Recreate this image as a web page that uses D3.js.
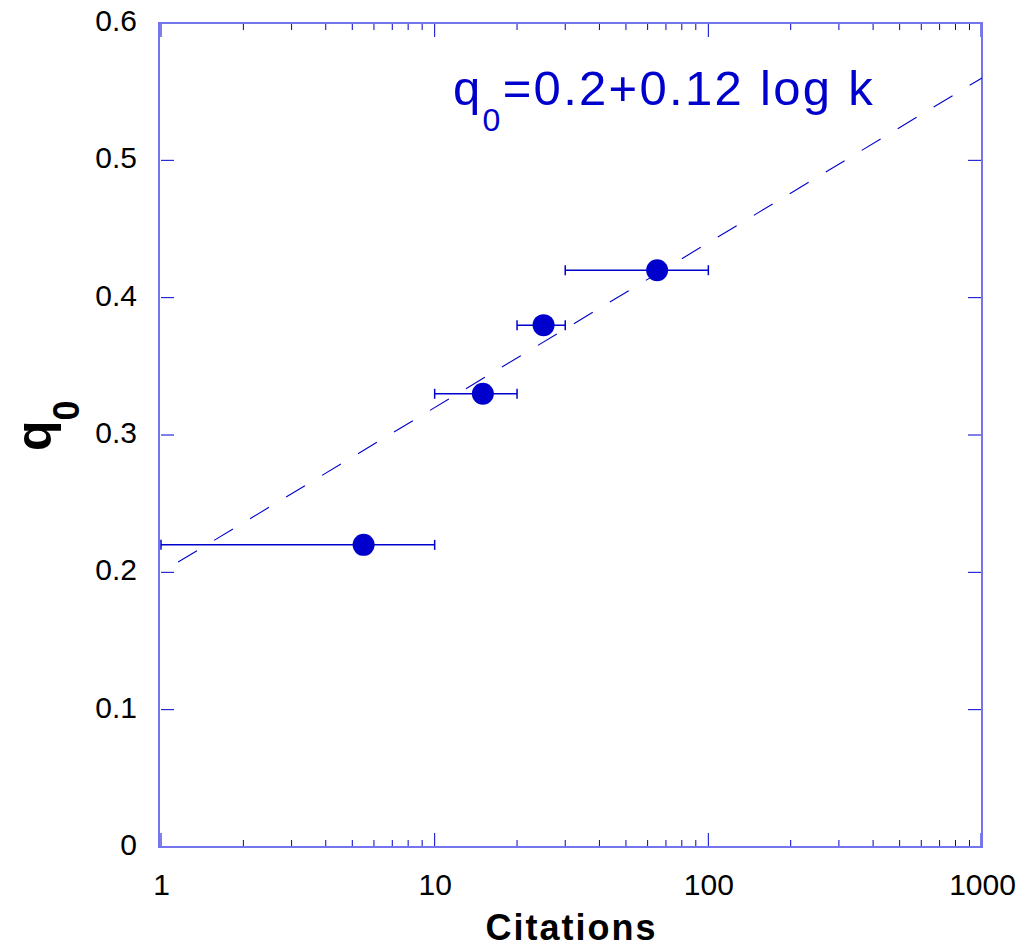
<!DOCTYPE html>
<html>
<head>
<meta charset="utf-8">
<script src="https://cdn.jsdelivr.net/npm/d3@7"></script>
<style>
  body { margin: 0; background: #fff; }
  text { font-family: "Liberation Sans", Arial, sans-serif; }
</style>
</head>
<body>
<div class="chart"></div>
<script>
// data
const citations = [5.5, 15, 25, 65];
const q0 = [0.22, 0.33, 0.38, 0.42];
const errLow = [1, 10, 20, 30];
const errHigh = [10, 20, 30, 100];
const fitA = 0.2, fitB = 0.12;           // q0 = 0.2 + 0.12 log k
const fitRange = [1, 1000];
const xTickLabels = [1, 10, 100, 1000];
const yTickLabels = [0, 0.1, 0.2, 0.3, 0.4, 0.5, 0.6];

const W = 1027, H = 948;
const margin = {top: 23, right: 45, bottom: 101, left: 161};
const width = W - margin.left - margin.right;
const height = H - margin.top - margin.bottom;
const frameColor = '#7474ee';
const markColor = '#0000cc';
const font = '"Liberation Sans", Arial, sans-serif';

const svg = d3.select('.chart').append('svg')
    .attr('width', W)
    .attr('height', H);
const g = svg.append('g')
    .attr('transform', `translate(${margin.left},${margin.top})`);

const x = d3.scaleLog().domain([1, 1000]).range([0, width]);
const y = d3.scaleLinear().domain([0, 0.6]).range([height, 0]);

// minor log ticks
const minor = [];
[1, 10, 100].forEach(d => { for (let k = 2; k <= 9; k++) minor.push(d * k); });

const ticksG = g.append('g').attr('stroke', markColor).attr('stroke-width', 1);
minor.forEach(v => {
  ticksG.append('line').attr('x1', x(v)).attr('x2', x(v)).attr('y1', height).attr('y2', height - 7);
  ticksG.append('line').attr('x1', x(v)).attr('x2', x(v)).attr('y1', 0).attr('y2', 7);
});
xTickLabels.forEach(v => {
  const xx = Math.min(x(v), width - 1);
  ticksG.append('line').attr('x1', xx).attr('x2', xx).attr('y1', height).attr('y2', height - 14);
  ticksG.append('line').attr('x1', xx).attr('x2', xx).attr('y1', 0).attr('y2', 14);
});
yTickLabels.forEach(v => {
  ticksG.append('line').attr('x1', 0).attr('x2', 13).attr('y1', y(v)).attr('y2', y(v));
  ticksG.append('line').attr('x1', width).attr('x2', width - 14).attr('y1', y(v)).attr('y2', y(v));
});

// frame
g.append('rect')
    .attr('x', -2).attr('y', 0)
    .attr('width', width + 2).attr('height', height)
    .attr('fill', 'none')
    .attr('stroke', frameColor)
    .attr('stroke-width', 2);

// tick labels via axes (lines hidden)
const xAxis = g.append('g')
    .attr('transform', `translate(0,${height})`)
    .call(d3.axisBottom(x).tickValues(xTickLabels).tickFormat(d3.format('d')).tickSize(0).tickPadding(27));
xAxis.select('.domain').remove();
xAxis.selectAll('text').attr('font-size', 30).attr('fill', '#000').style('font-family', font);

const yAxis = g.append('g')
    .call(d3.axisLeft(y).tickValues(yTickLabels).tickFormat(d => d === 0 ? '0' : d3.format('.1f')(d)).tickSize(0).tickPadding(24));
yAxis.select('.domain').remove();
yAxis.selectAll('text').attr('font-size', 30).attr('fill', '#000').attr('dy', '0.25em').style('font-family', font);

// fit line
const fit = d3.line().x(d => x(d)).y(d => y(fitA + fitB * Math.log10(d)));
g.append('path')
    .datum(fitRange)
    .attr('d', fit)
    .attr('fill', 'none')
    .attr('stroke', markColor)
    .attr('stroke-width', 1.1)
    .attr('stroke-dasharray', '22,20')
    .attr('stroke-dashoffset', 22);

// error bars
const pts = citations.map((c, i) => ({c, q: q0[i], lo: errLow[i], hi: errHigh[i]}));
const eb = g.append('g').attr('stroke', markColor).attr('stroke-width', 1.5);
pts.forEach(d => {
  eb.append('line').attr('x1', x(d.lo)).attr('x2', x(d.hi)).attr('y1', y(d.q)).attr('y2', y(d.q));
  [d.lo, d.hi].forEach(v => {
    eb.append('line').attr('x1', x(v)).attr('x2', x(v)).attr('y1', y(d.q) - 5).attr('y2', y(d.q) + 5);
  });
});

g.selectAll('.pt')
  .data(pts)
  .enter().append('circle')
    .attr('class', 'pt')
    .attr('cx', d => x(d.c))
    .attr('cy', d => y(d.q))
    .attr('r', 11)
    .attr('fill', markColor);

// annotation
const ann = svg.append('text')
    .attr('x', 453)
    .attr('y', 105)
    .attr('fill', markColor)
    .attr('font-size', 49)
    .attr('letter-spacing', 2.3);
ann.append('tspan').text('q');
ann.append('tspan').attr('font-size', 32).attr('dy', 26).text('0');
ann.append('tspan').attr('dy', -26).text('=0.2+0.12 log k');

// axis titles
svg.append('text')
    .attr('x', margin.left + width / 2)
    .attr('y', 940)
    .attr('text-anchor', 'middle')
    .attr('font-size', 36)
    .attr('letter-spacing', 2)
    .attr('font-weight', 'bold')
    .text('Citations');

const yl = svg.append('text')
    .attr('transform', 'translate(51,451) rotate(-90)')
    .attr('font-size', 50)
    .attr('font-weight', 'bold');
yl.append('tspan').text('q');
yl.append('tspan').attr('font-size', 36).attr('dy', 28).text('0');
</script>
</body>
</html>
